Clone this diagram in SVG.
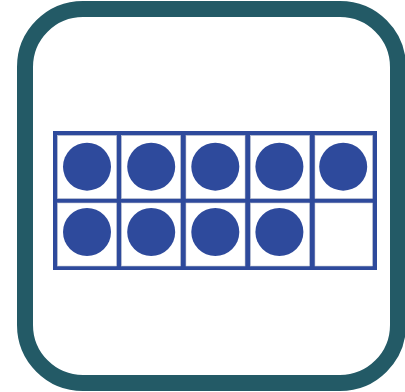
<svg xmlns="http://www.w3.org/2000/svg" width="405" height="392" viewBox="0 0 405 392">
<style>
.frame{fill:#ffffff;stroke:#235a66;stroke-width:16}
.grid{fill:#2e4a9c}
.cell{fill:#ffffff;stroke:#c9cbd6;stroke-width:0.6}
.dot{fill:#2e4a9c}
</style>
<rect class="frame" x="25" y="9" width="373" height="374" rx="58" ry="58"/>
<g id="ten-frame">
<rect class="grid" x="53" y="131" width="324" height="139"/>
<rect class="cell" x="57.5" y="135.5" width="59" height="63"/>
<rect class="cell" x="121.5" y="135.5" width="59" height="63"/>
<rect class="cell" x="186" y="135.5" width="59" height="63"/>
<rect class="cell" x="250.5" y="135.5" width="59" height="63"/>
<rect class="cell" x="315" y="135.5" width="57.5" height="63"/>
<rect class="cell" x="57.5" y="203" width="59" height="63"/>
<rect class="cell" x="121.5" y="203" width="59" height="63"/>
<rect class="cell" x="186" y="203" width="59" height="63"/>
<rect class="cell" x="250.5" y="203" width="59" height="63"/>
<rect class="cell" x="315" y="203" width="57.5" height="63"/>
</g>
<g id="counters">
<circle class="dot" cx="87" cy="166.7" r="24"/>
<circle class="dot" cx="151.2" cy="166.7" r="24"/>
<circle class="dot" cx="215.3" cy="166.7" r="24"/>
<circle class="dot" cx="279.4" cy="166.7" r="24"/>
<circle class="dot" cx="343.2" cy="166.7" r="24"/>
<circle class="dot" cx="87" cy="232" r="24"/>
<circle class="dot" cx="151.2" cy="232" r="24"/>
<circle class="dot" cx="215.3" cy="232" r="24"/>
<circle class="dot" cx="279.4" cy="232" r="24"/>
</g>
</svg>
